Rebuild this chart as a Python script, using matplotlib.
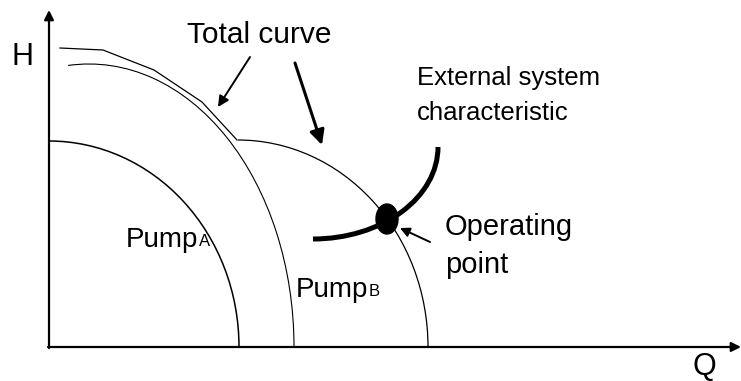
import numpy as np
import matplotlib.pyplot as plt
from matplotlib.patches import Arc, Ellipse

# Pump curves (Q, H), origin at the axis corner.
# Each curve is a quarter ellipse: peak head at q_top, falling to H = 0 at q_end.
curve_names = ['Pump A', 'Pump B', 'Total curve']
curve_q_start = [0, 19, 189]      # flow where the drawn curve begins
curve_h_start = [206, 284, 207]   # head where the drawn curve begins
curve_q_top = [0, 40, 189]        # flow at peak head
curve_h_top = [206, 283, 207]     # peak head
curve_q_end = [190, 245, 379]     # run-out flow
curve_widths = [1.1, 0.8, 0.9]

# Upper part of the total curve (drawn as straight segments)
total_upper_q = [11, 54, 105, 153, 188]
total_upper_h = [299, 297, 277, 245, 207]

# External system characteristic: left end (q, h) and top end (q, h)
system_start = (264, 108)
system_end = (389, 200)

operating_q = 338
operating_h = 128

plt.rcParams['font.family'] = ['Liberation Sans', 'DejaVu Sans']

fig = plt.figure(figsize=(7.41, 3.81), dpi=100)
ax = fig.add_axes([0, 0, 1, 1])
ax.set_xlim(-49, 692)
ax.set_ylim(-34, 347)
ax.axis('off')

# Axes drawn as arrows
ax.annotate('', xy=(0, 337), xytext=(0, -1),
            arrowprops=dict(arrowstyle='-|>', color='black', lw=1.6, mutation_scale=14, shrinkA=0, shrinkB=0))
ax.annotate('', xy=(692, 0), xytext=(-1, 0),
            arrowprops=dict(arrowstyle='-|>', color='black', lw=1.6, mutation_scale=14, shrinkA=0, shrinkB=0))

# Pump curves and lower part of the total curve
for q0, h0, qt, ht, qe, lw in zip(curve_q_start, curve_h_start, curve_q_top,
                                  curve_h_top, curve_q_end, curve_widths):
    theta2 = np.degrees(np.arctan2(h0, q0 - qt))
    ax.add_patch(Arc((qt, 0), 2 * (qe - qt), 2 * ht, theta1=0, theta2=max(theta2, 90),
                     color='black', lw=lw))

ax.plot(total_upper_q, total_upper_h, color='black', lw=0.9)

# External system characteristic and operating point
sx = system_end[0] - system_start[0]
sy = system_end[1] - system_start[1]
ax.add_patch(Arc((system_start[0], system_end[1]), 2 * sx, 2 * sy, theta1=270, theta2=360,
                 color='black', lw=3.6))
ax.add_patch(Ellipse((operating_q, operating_h), 22, 30, color='black', zorder=5))

# Pointer arrows
ax.annotate('', xy=(169, 240), xytext=(201, 290),
            arrowprops=dict(arrowstyle='-|>', color='black', lw=1.4, mutation_scale=16, shrinkA=0, shrinkB=0))
ax.annotate('', xy=(273, 202), xytext=(246, 284),
            arrowprops=dict(arrowstyle='-|>', color='black', lw=2.2, mutation_scale=22, shrinkA=0, shrinkB=0))
ax.annotate('', xy=(351, 119), xytext=(381, 105),
            arrowprops=dict(arrowstyle='-|>', color='black', lw=1.4, mutation_scale=14, shrinkA=0, shrinkB=0))

# Labels
ax.text(-37, 282, 'H', fontsize=22, va='baseline')
ax.text(644, -28, 'Q', fontsize=22, va='baseline')
ax.text(138, 304, 'Total curve', fontsize=21.5, va='baseline')
ax.text(368, 262, 'External system', fontsize=18.5, va='baseline')
ax.text(368, 227, 'characteristic', fontsize=18.5, va='baseline')
ax.text(396, 112, 'Operating', fontsize=21, va='baseline')
ax.text(396, 74, 'point', fontsize=21, va='baseline')

for (x, y), sub in zip([(77, 100), (247, 50)], ['A', 'B']):
    t = ax.text(x, y, 'Pump', fontsize=20, va='baseline')
    ax.annotate(sub, xy=(1, 0), xycoords=t, xytext=(0.5, 3), textcoords='offset points',
                fontsize=12, va='bottom', ha='left')

fig.savefig('out.png', dpi=100)
